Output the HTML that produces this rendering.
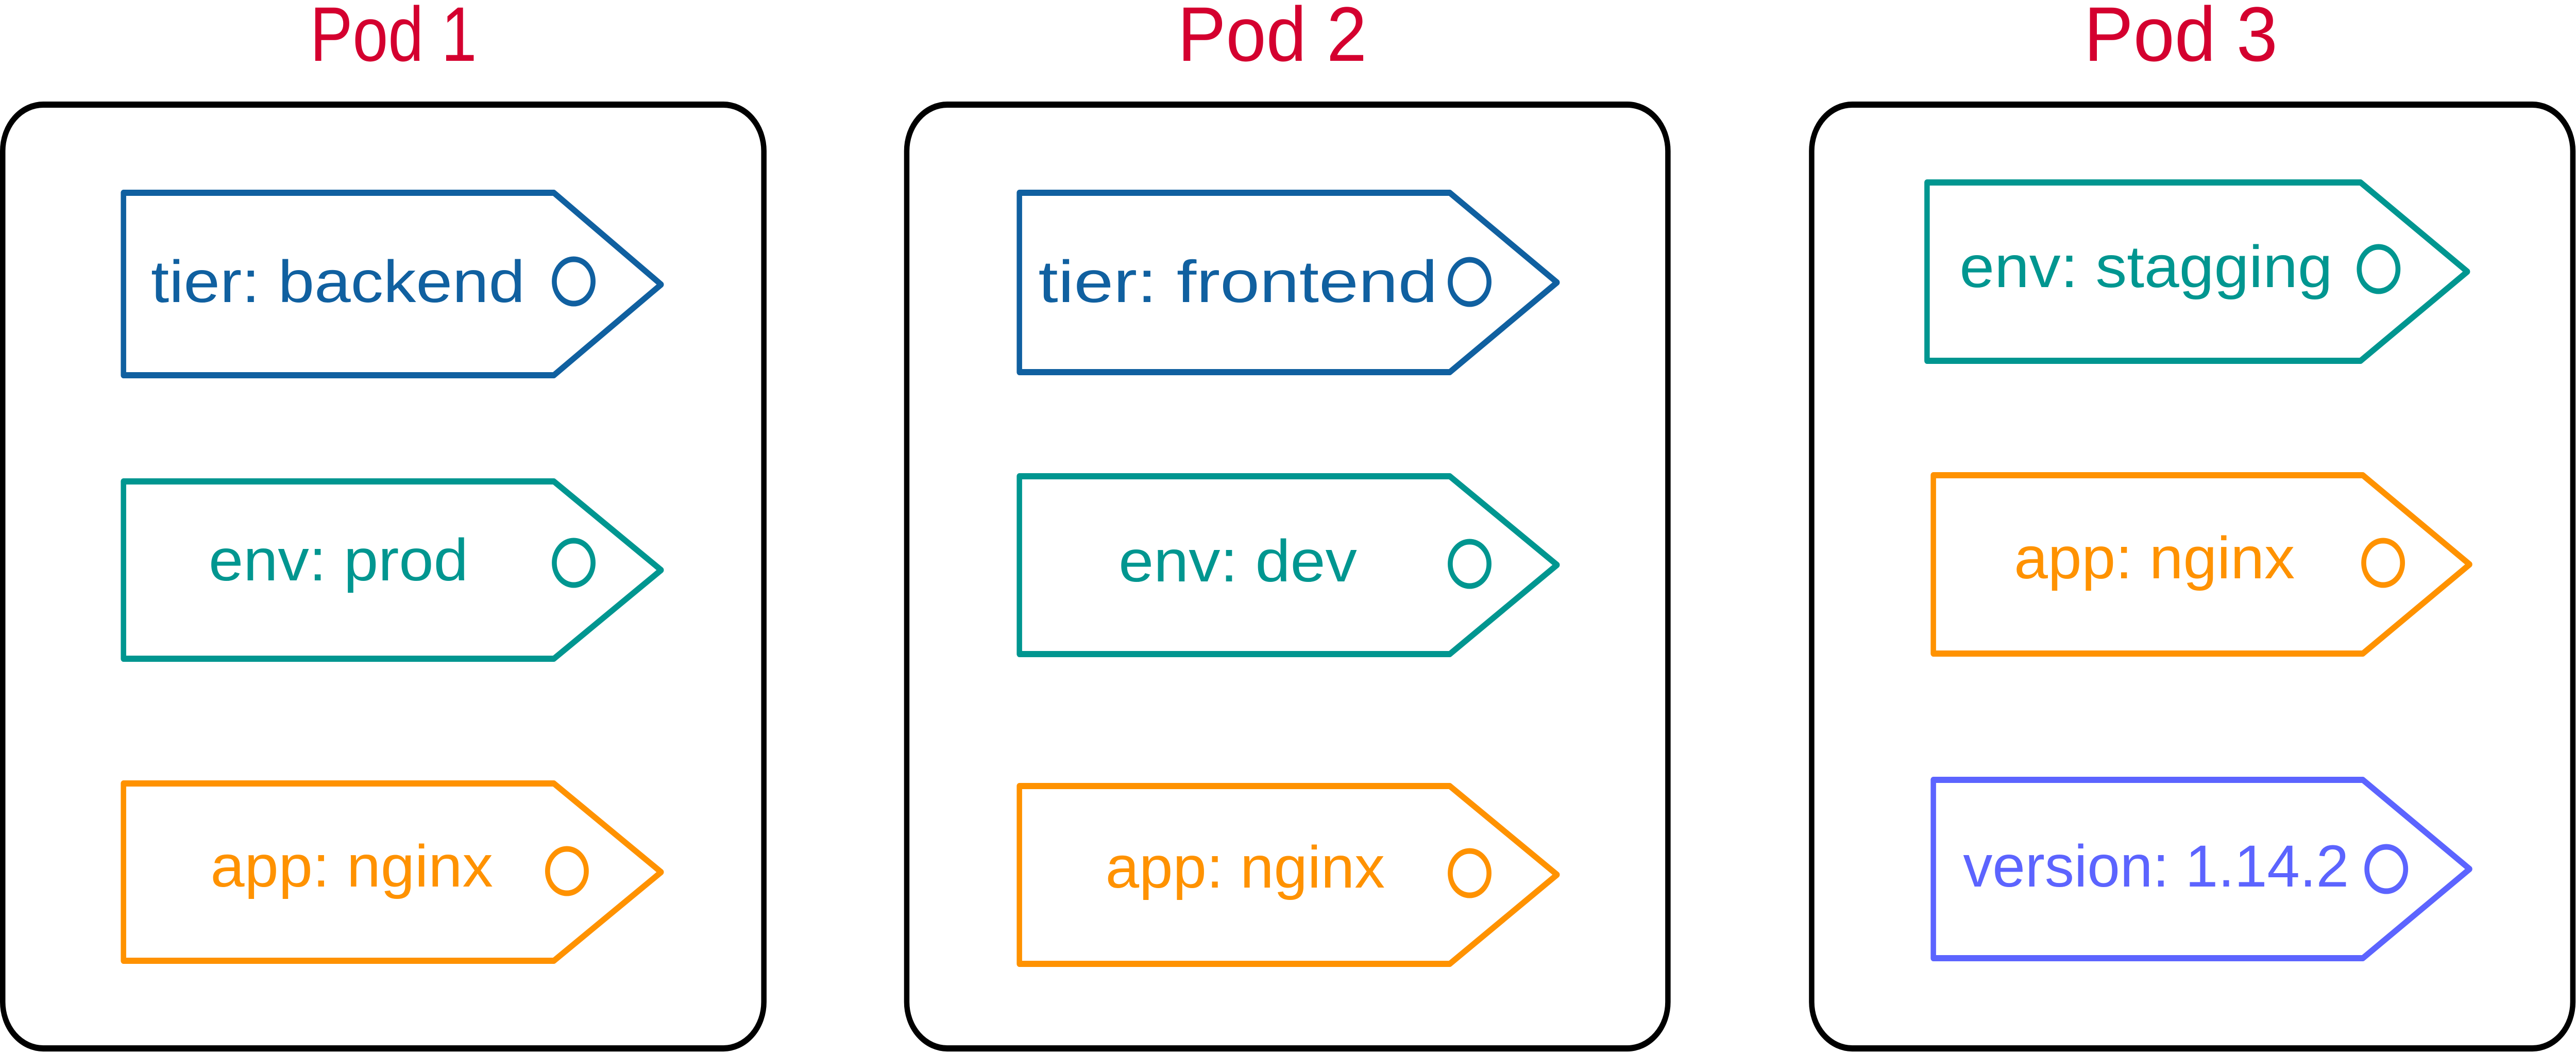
<!DOCTYPE html>
<html><head><meta charset="utf-8"><style>
html,body{margin:0;padding:0;background:#fff;overflow:hidden;width:100vw;height:100vh;}
svg{display:block;position:fixed;left:0;top:0;width:100vw;height:100vh;}
text{font-family:"Liberation Sans","DejaVu Sans",sans-serif;}
</style></head><body>
<svg viewBox="0 0 5716 2041" preserveAspectRatio="none" xmlns="http://www.w3.org/2000/svg">
<rect width="5716" height="2041" fill="#fff"/>
<g fill="none" stroke="#000" stroke-width="12">
<rect x="6" y="203" width="1689" height="1831" rx="90"/>
<rect x="2012" y="203" width="1689" height="1831" rx="90"/>
<rect x="4020" y="203" width="1689" height="1831" rx="90"/>
</g>
<g fill="#d4002f" font-size="150" text-anchor="middle">
<text x="873" y="118" textLength="370" lengthAdjust="spacingAndGlyphs">Pod 1</text>
<text x="2823" y="118" textLength="420" lengthAdjust="spacingAndGlyphs">Pod 2</text>
<text x="4839" y="118" textLength="430" lengthAdjust="spacingAndGlyphs">Pod 3</text>
</g>
<g fill="none" stroke-width="12" stroke-linejoin="round">
<path d="M274 374 H1229 L1467 552 L1229 728 H274 Z" stroke="#1060a0"/>
<path d="M274 934 H1229 L1467 1106 L1229 1278 H274 Z" stroke="#009690"/>
<path d="M274 1520 H1229 L1467 1692 L1229 1864 H274 Z" stroke="#ff9200"/>
<path d="M2262 374 H3217 L3455 548 L3217 722 H2262 Z" stroke="#1060a0"/>
<path d="M2262 924 H3217 L3455 1096 L3217 1269 H2262 Z" stroke="#009690"/>
<path d="M2262 1525 H3217 L3455 1697 L3217 1870 H2262 Z" stroke="#ff9200"/>
<path d="M4276 354 H5238 L5475 527 L5238 700 H4276 Z" stroke="#009690"/>
<path d="M4290 922 H5243 L5480 1095 L5243 1268 H4290 Z" stroke="#ff9200"/>
<path d="M4290 1513 H5243 L5480 1686 L5243 1859 H4290 Z" stroke="#5c64ff"/>
</g>
<g fill="none" stroke-width="11">
<circle cx="1273" cy="546" r="43" stroke="#1060a0"/>
<circle cx="1273" cy="1092" r="43" stroke="#009690"/>
<circle cx="1258" cy="1690" r="43" stroke="#ff9200"/>
<circle cx="3261" cy="547" r="43" stroke="#1060a0"/>
<circle cx="3261" cy="1094" r="43" stroke="#009690"/>
<circle cx="3261" cy="1694" r="43" stroke="#ff9200"/>
<circle cx="5278" cy="522" r="43" stroke="#009690"/>
<circle cx="5288" cy="1092" r="43" stroke="#ff9200"/>
<circle cx="5295" cy="1686" r="43" stroke="#5c64ff"/>
</g>
<g font-size="115">
<text x="335" y="586" fill="#1060a0" textLength="830" lengthAdjust="spacingAndGlyphs">tier: backend</text>
<text x="463" y="1126" fill="#009690" textLength="576" lengthAdjust="spacingAndGlyphs">env: prod</text>
<text x="467" y="1720" fill="#ff9200" textLength="627" lengthAdjust="spacingAndGlyphs">app: nginx</text>
<text x="2304" y="586" fill="#1060a0" textLength="886" lengthAdjust="spacingAndGlyphs">tier: frontend</text>
<text x="2482" y="1128" fill="#009690" textLength="529" lengthAdjust="spacingAndGlyphs">env: dev</text>
<text x="2453" y="1722" fill="#ff9200" textLength="620" lengthAdjust="spacingAndGlyphs">app: nginx</text>
<text x="4348" y="557" fill="#009690" textLength="828" lengthAdjust="spacingAndGlyphs">env: stagging</text>
<text x="4469" y="1122" fill="#ff9200" textLength="623" lengthAdjust="spacingAndGlyphs">app: nginx</text>
<text x="4356" y="1720" fill="#5c64ff" textLength="856" lengthAdjust="spacingAndGlyphs">version: 1.14.2</text>
</g>
</svg>
</body></html>
